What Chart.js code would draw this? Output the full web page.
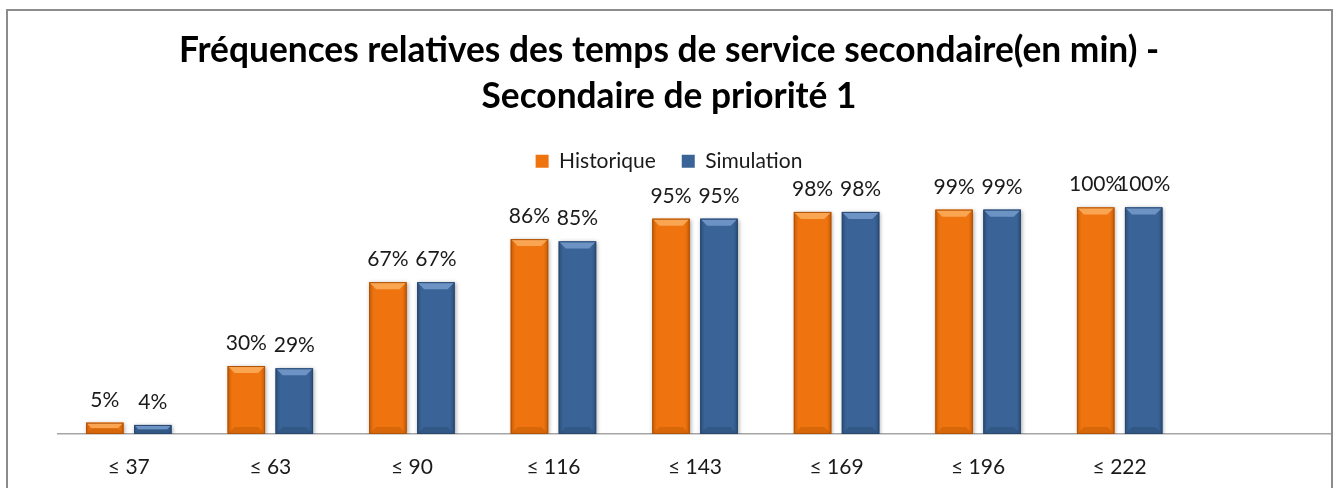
<!DOCTYPE html>
<html>
<head>
<meta charset="utf-8">
<script src="https://cdn.jsdelivr.net/npm/chart.js@4.4.1/dist/chart.umd.min.js"></script>
<style>
  html, body { margin: 0; padding: 0; background: #fff; }
  #wrap { position: relative; width: 1338px; height: 488px; overflow: hidden; }
  #frame { position: absolute; left: 6px; top: 9px; width: 1323px; height: 520px;
           border: 2px solid #8c8c8c; pointer-events: none; }
  canvas { position: absolute; left: 0; top: 0; }
</style>
</head>
<body>
<div id="wrap">
  <canvas id="c" width="1338" height="488"></canvas>
  <div id="frame"></div>
</div>
<script>
// Upper bound of each service-time class (minutes); the last slot stays empty
const categories = ['≤ 37', '≤ 63', '≤ 90', '≤ 116', '≤ 143', '≤ 169', '≤ 196', '≤ 222', ''];
// Cumulative relative frequencies, in percent
const historique = [5, 30, 67, 86, 95, 98, 99, 100];
const simulation = [4, 29, 67, 85, 95, 98, 99, 100];
const seriesNames = ['Historique', 'Simulation'];
const titleLines = ['Fréquences relatives des temps de service secondaire(en min) -',
                    'Secondaire de priorité 1'];

const palette = [
  { base: '#EF7410', light: '#F9A552', dark: '#C55C05', edge: '#B05206' },
  { base: '#3A6497', light: '#6C93C4', dark: '#2C4E79', edge: '#284870' }
];

// Bevelled bar look: light top facet, darker side and bottom facets
const bevelPlugin = {
  id: 'bevel',
  beforeDatasetDraw(chart, args) {
    const ctx = chart.ctx;
    ctx.save();
    ctx.shadowColor = 'rgba(0,0,0,0.35)';
    ctx.shadowBlur = 4;
    ctx.shadowOffsetX = 1;
    ctx.shadowOffsetY = 1;
  },
  afterDatasetDraw(chart, args) {
    const ctx = chart.ctx;
    ctx.restore();
    const p = palette[args.index];
    const meta = args.meta;
    meta.data.forEach((bar) => {
      const { x, y, base, width } = bar.getProps(['x', 'y', 'base', 'width'], true);
      const l = x - width / 2, r = x + width / 2, t = y, b = base;
      const h = b - t;
      const e = Math.min(7, h / 2);
      ctx.save();
      // side facets
      const g = ctx.createLinearGradient(l, 0, r, 0);
      g.addColorStop(0, p.dark);
      g.addColorStop(0.12, p.base);
      g.addColorStop(0.88, p.base);
      g.addColorStop(1, p.dark);
      ctx.fillStyle = g;
      ctx.fillRect(l, t, width, h);
      // top facet
      ctx.beginPath();
      ctx.moveTo(l, t); ctx.lineTo(r, t); ctx.lineTo(r - e, t + e); ctx.lineTo(l + e, t + e);
      ctx.closePath();
      ctx.fillStyle = p.light;
      ctx.fill();
      // bottom facet
      ctx.beginPath();
      ctx.moveTo(l, b); ctx.lineTo(r, b); ctx.lineTo(r - e, b - e); ctx.lineTo(l + e, b - e);
      ctx.closePath();
      ctx.fillStyle = p.dark;
      ctx.globalAlpha = 0.55;
      ctx.fill();
      ctx.globalAlpha = 1;
      // outline
      ctx.strokeStyle = p.edge;
      ctx.lineWidth = 1;
      ctx.strokeRect(l + 0.5, t + 0.5, width - 1, h - 1);
      ctx.restore();
    });
  }
};

// Percentage written above every bar
const valueLabels = {
  id: 'valueLabels',
  afterDatasetsDraw(chart) {
    const ctx = chart.ctx;
    ctx.save();
    ctx.font = '21px Lato';
    ctx.fillStyle = '#1a1a1a';
    ctx.textAlign = 'center';
    ctx.textBaseline = 'alphabetic';
    chart.data.datasets.forEach((ds, i) => {
      chart.getDatasetMeta(i).data.forEach((bar, j) => {
        const v = ds.data[j];
        if (v === undefined || v === null) return;
        ctx.fillText(v + '%', bar.x, bar.y - 16);
      });
    });
    ctx.restore();
  }
};

new Chart(document.getElementById('c'), {
  type: 'bar',
  data: {
    labels: categories,
    datasets: [
      { label: seriesNames[0], data: historique, backgroundColor: palette[0].base, borderWidth: 0 },
      { label: seriesNames[1], data: simulation, backgroundColor: palette[1].base, borderWidth: 0 }
    ]
  },
  options: {
    responsive: false,
    animation: false,
    events: [],
    layout: { padding: { left: 6, right: 6, top: 0, bottom: 0 } },
    datasets: { bar: { categoryPercentage: 0.678, barPercentage: 0.78 } },
    scales: {
      x: {
        grid: { display: false, drawTicks: false },
        border: { display: true, color: '#a6a6a6', width: 1.5 },
        ticks: { color: '#1a1a1a', font: { family: 'Lato', size: 21 }, padding: 21, maxRotation: 0 },
        afterFit(scale) { scale.height = 54; }
      },
      y: {
        min: 0,
        max: 111.3,
        grid: { display: false, drawTicks: false },
        border: { display: false },
        ticks: { display: false },
        afterFit(scale) { scale.width = 52; }
      }
    },
    plugins: {
      title: {
        display: true,
        text: titleLines,
        color: '#000',
        font: { family: 'Lato', size: 35.3, weight: 'bold', lineHeight: 1.3 },
        padding: { top: 28, bottom: 5 }
      },
      legend: {
        display: true,
        position: 'top',
        labels: {
          color: '#1a1a1a',
          font: { family: 'Lato', size: 21 },
          boxWidth: 13,
          boxHeight: 13,
          padding: 26
        }
      },
      tooltip: { enabled: false }
    }
  },
  plugins: [bevelPlugin, valueLabels]
});
</script>
</body>
</html>
